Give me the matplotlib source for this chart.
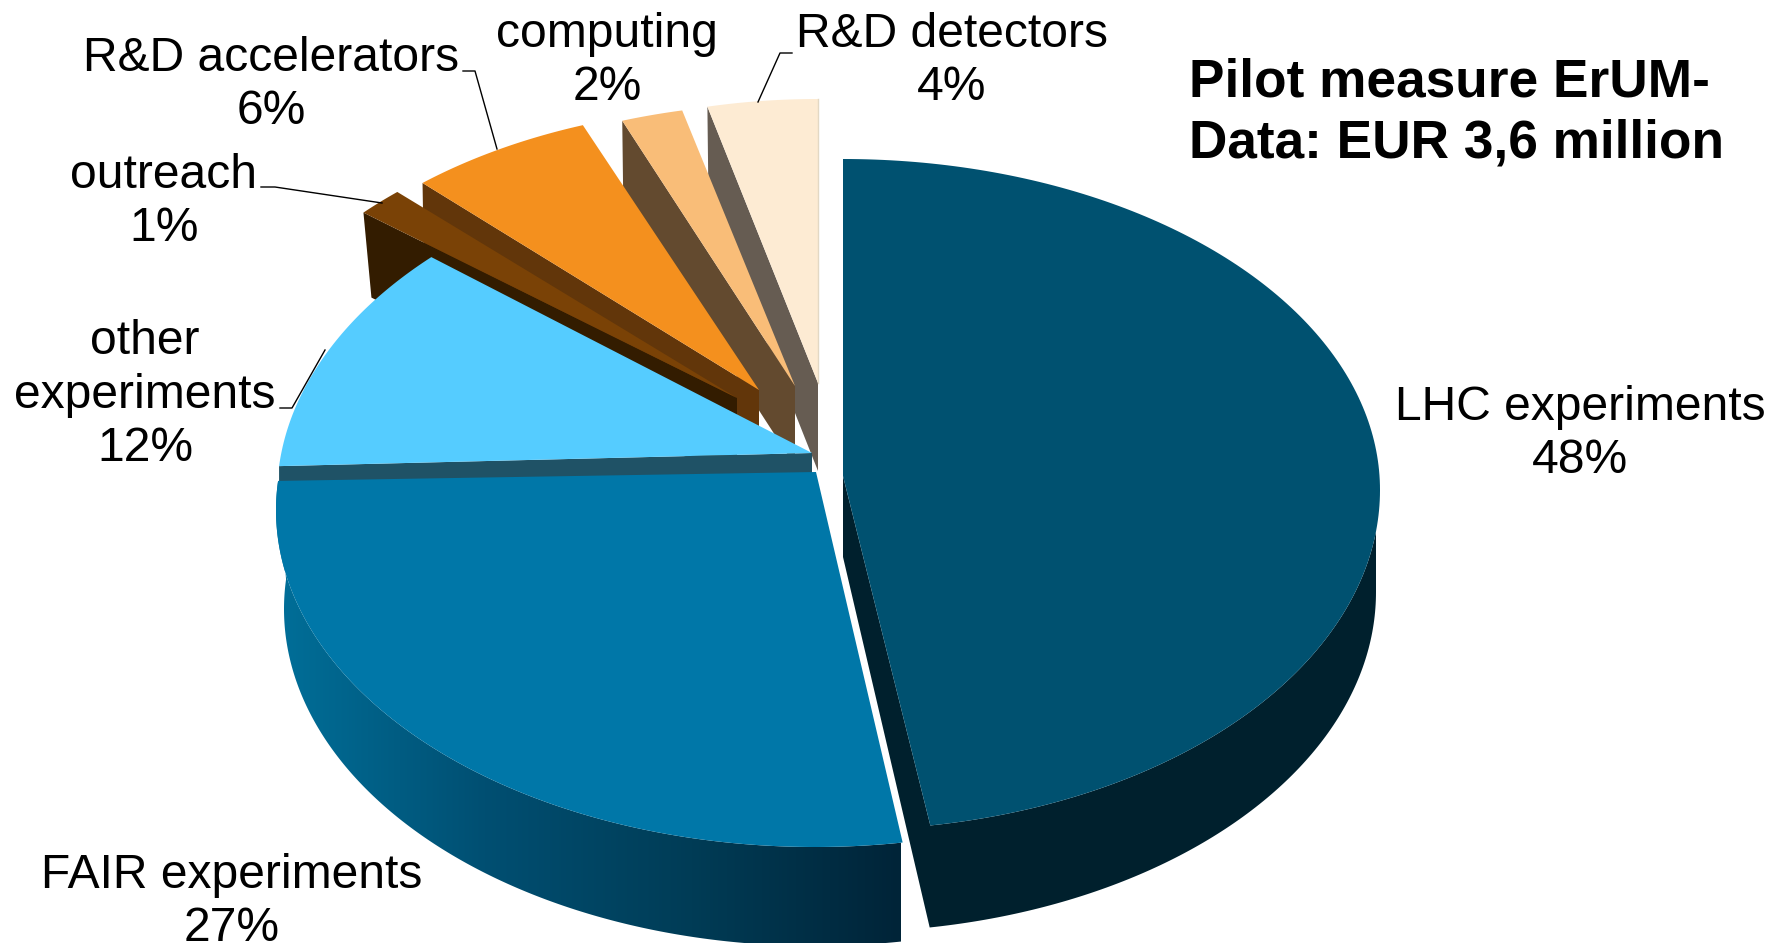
import matplotlib
matplotlib.use('Agg')
import matplotlib.pyplot as plt
import matplotlib.colors as mcolors
from matplotlib.patches import Polygon
import numpy as np

plt.rcParams['font.family'] = ['Liberation Sans', 'DejaVu Sans']

# data
categories = ['LHC experiments', 'FAIR experiments', 'other\nexperiments', 'outreach', 'R&D accelerators', 'computing', 'R&D detectors']
percent_labels = [48, 27, 12, 1, 6, 2, 4]
# drawn share of each slice, as measured on the picture (perspective skews it from the labels)
shares = [47.4, 29.0, 11.0, 1.4, 5.7, 1.95, 3.55]
title_text = 'Pilot measure ErUM-\nData: EUR 3,6 million'

top_colors = ['#005170', '#0077A8', '#55CCFF', '#7A4206', '#F4901E', '#F9BD78', '#FDEBD3']
wall_colors = ['#00202D', '#1F5266', '#1F5266', '#331C00', '#62360A', '#634A2F', '#665C52']

# pixel geometry of each exploded slice: apex, ellipse centre, semi axes
apex = [(843, 476), (816, 472), (812, 453), (737, 398), (759, 390), (795, 386), (818, 383)]
centre = [(843, 490), (815, 510), (812, 496), (737, 455), (759, 430), (795, 403), (818, 409)]
semi_a = [537, 539, 535, 525, 520, 510, 500]
semi_up = [331, 331, 340, 345, 324, 300, 310]
semi_low = [340, 337, 340, 345, 324, 300, 310]
wall_depth = [81, 0, 40, 85, 60, 80, 88]
wall_dx = [0, 0, 0, 8, 1, 1, 1]
label_xy = [(1580, 434), (232, 902), (145, 395), (164, 202), (271, 85), (607, 61), (952, 61)]
leaders = [None, None, [(280, 408), (292, 408), (325, 350)], [(261, 187), (275, 187), (382, 203)],
           [(463, 71), (475, 71), (497, 149)], None, [(792, 53), (780, 53), (758, 102)]]


def arc(i, t):
    cx, cy = centre[i]
    c = np.cos(t)
    b = np.where(c >= 0, semi_up[i], semi_low[i])
    return np.column_stack([cx + semi_a[i] * np.sin(t), cy - b * c])


fig = plt.figure(figsize=(17.75, 9.43), dpi=100)
ax = fig.add_axes([0, 0, 1, 1])

edges = np.radians(np.cumsum([0] + shares) / sum(shares) * 360)

# back slices first, then the front ones paint over them
for i in [6, 5, 4, 3, 2]:
    t = np.linspace(edges[i], edges[i + 1], 60)
    pts = arc(i, t)
    a = np.array(apex[i], dtype=float)
    s = pts[0]
    wall = [s, s + (wall_dx[i], wall_depth[i]), a + (0, wall_depth[i]), a]
    ax.fill(*zip(*wall), color=wall_colors[i], lw=0)
    ax.fill(*zip(*np.vstack([a, pts])), color=top_colors[i], lw=0)
    if i == 6:
        ax.plot([pts[-1][0], pts[-1][0]], [pts[-1][1], a[1]], color='#E3D8C4', lw=1)

# FAIR: outer wall with gradient, then top
t = np.linspace(edges[1], edges[2], 200)
top = arc(1, t)
bot = np.column_stack([815 + 531 * np.sin(t), 609 - 337 * np.cos(t)])
grad = mcolors.LinearSegmentedColormap.from_list('fair', ['#006F99', '#004F72', '#003C56', '#002438'])
im = ax.imshow(np.linspace(0, 1, 256).reshape(1, -1), cmap=grad, aspect='auto', extent=(276, 901, 943, 480))
im.set_clip_path(Polygon(np.vstack([top, bot[::-1]]), transform=ax.transData))
ax.fill(*zip(*np.vstack([apex[1], top])), color=top_colors[1], lw=0)

# LHC: outer wall, cut wall, top
t = np.linspace(np.pi / 2, edges[1], 120)
top = arc(0, np.linspace(np.radians(97), edges[1], 120))
bot = np.column_stack([843 + 533 * np.sin(t), 592 - 340 * np.cos(t)])
wall = np.vstack([apex[0], (843, 557), bot[-1], bot[::-1], top])
ax.fill(*zip(*wall), color=wall_colors[0], lw=0)
t = np.linspace(edges[0], edges[1], 200)
ax.fill(*zip(*np.vstack([apex[0], arc(0, t)])), color=top_colors[0], lw=0)

# labels
for i, name in enumerate(categories):
    ax.text(label_xy[i][0], label_xy[i][1], f'{name}\n{percent_labels[i]}%', ha='center', va='center',
            fontsize=34.6, linespacing=1.25, color='black')
    if leaders[i] is not None:
        ax.plot(*zip(*leaders[i]), color='black', lw=1)

ax.text(1189, 113, title_text, ha='left', va='center', fontsize=38.3, fontweight='bold', linespacing=1.3)

ax.set_xlim(0, 1775)
ax.set_ylim(943, 0)
ax.axis('off')

fig.savefig('out.png', dpi=100)
